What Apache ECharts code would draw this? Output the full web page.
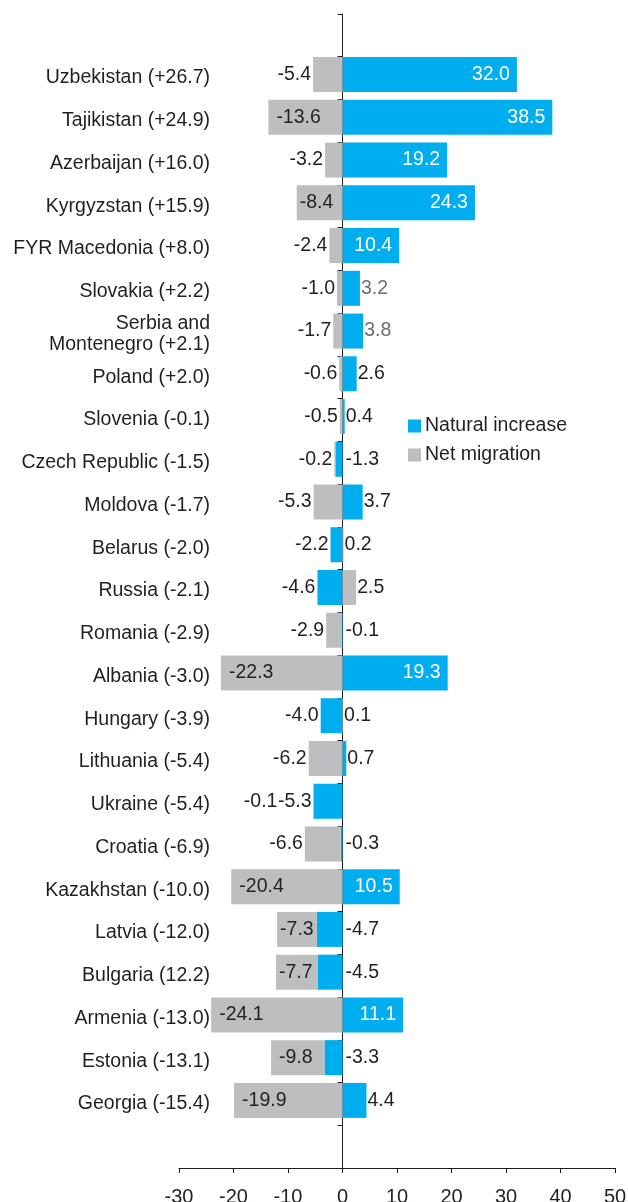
<!DOCTYPE html>
<html><head><meta charset="utf-8">
<script src="https://cdn.jsdelivr.net/npm/echarts@6/dist/echarts.min.js"></script>
<style>html,body{margin:0;padding:0;background:#fff}#c{width:628px;height:1202px}</style>
</head><body><div id="c"></div>
<script>
// ---------- data ----------
const countries = [
  'Uzbekistan (+26.7)', 'Tajikistan (+24.9)', 'Azerbaijan (+16.0)', 'Kyrgyzstan (+15.9)',
  'FYR Macedonia (+8.0)', 'Slovakia (+2.2)', 'Serbia and\nMontenegro (+2.1)', 'Poland (+2.0)',
  'Slovenia (-0.1)', 'Czech Republic (-1.5)', 'Moldova (-1.7)', 'Belarus (-2.0)',
  'Russia (-2.1)', 'Romania (-2.9)', 'Albania (-3.0)', 'Hungary (-3.9)',
  'Lithuania (-5.4)', 'Ukraine (-5.4)', 'Croatia (-6.9)', 'Kazakhstan (-10.0)',
  'Latvia (-12.0)', 'Bulgaria (12.2)', 'Armenia (-13.0)', 'Estonia (-13.1)', 'Georgia (-15.4)'
];
const naturalIncrease = [32.0, 38.5, 19.2, 24.3, 10.4, 3.2, 3.8, 2.6, 0.4, -1.3, 3.7, -2.2,
  -4.6, -0.1, 19.3, -4.0, 0.7, -5.3, -0.3, 10.5, -4.7, -4.5, 11.1, -3.3, 4.4];
const netMigration = [-5.4, -13.6, -3.2, -8.4, -2.4, -1.0, -1.7, -0.6, -0.5, -0.2, -5.3, 0.2,
  2.5, -2.9, -22.3, 0.1, -6.2, -0.1, -6.6, -20.4, -7.3, -7.7, -24.1, -9.8, -19.9];
const seriesNames = ['Natural increase', 'Net migration'];
const xMin = -30, xMax = 50, xStep = 10;

// ---------- styles ----------
const FONT = '"Liberation Sans", Arial, sans-serif';
const DARK = '#231f20';
const BLUE = '#00aeef';
const GREY = '#bcbec0';
const MUTED = '#6d6e71';
const mutedNaturalLabels = [5, 6]; // rows whose natural-increase label is grey
const FS = 19.5;

const measure = (() => {
  const ctx = document.createElement('canvas').getContext('2d');
  ctx.font = FS + 'px ' + FONT;
  return t => ctx.measureText(t).width;
})();
const fmt = v => v.toFixed(1);
const niOnLeft = (v, m) => v < 0 && (m >= 0 || (Math.abs(v) > Math.abs(m) && Math.abs(v) >= 2));

function niItem(v, m, i) {
  let label;
  if (v >= 10) label = { position: 'insideRight', distance: 7, color: '#fff' };
  else if (niOnLeft(v, m)) label = { position: 'left', distance: 2 };
  else label = { position: 'right', distance: v < 0 ? 3 : 1, color: mutedNaturalLabels.includes(i) ? MUTED : DARK };
  return { value: v, label };
}
function nmItem(m, v) {
  let label;
  if (m <= -7) label = { position: 'insideLeft', distance: m <= -9 ? 8 : 3 };
  else if (m < 0) {
    label = { position: 'left', distance: 2 };
    if (niOnLeft(v, m)) label.offset = [-measure(fmt(v)), 0];
  } else label = { position: 'right', distance: 1 };
  return { value: m, label };
}

const pad = x => ['-', ...x, '-'];
const cats = ['', ...countries, ''];
const niData = pad(naturalIncrease.map((v, i) => niItem(v, netMigration[i], i)));
const nmData = pad(netMigration.map((m, i) => nmItem(m, naturalIncrease[i])));

const chart = echarts.init(document.getElementById('c'), null, { renderer: 'canvas' });
chart.setOption({
  animation: false,
  backgroundColor: '#fff',
  textStyle: { fontFamily: FONT },
  grid: { left: 179, right: 13, top: 14, bottom: 34, containLabel: false, outerBoundsMode: 'none' },
  legend: {
    data: seriesNames, orient: 'vertical', left: 408, top: 416,
    itemWidth: 13, itemHeight: 13, itemGap: 9, icon: 'rect', padding: 0,
    textStyle: { fontSize: FS, color: DARK, fontFamily: FONT, padding: [0, 0, 0, -1] }
  },
  xAxis: {
    type: 'value', min: xMin, max: xMax, interval: xStep,
    axisLine: { show: true, lineStyle: { color: DARK, width: 1 } },
    axisTick: { show: true, length: 5, lineStyle: { color: DARK } },
    axisLabel: { fontSize: 20, color: DARK, margin: 19, fontFamily: FONT },
    splitLine: { show: false }
  },
  yAxis: {
    type: 'category', data: cats, inverse: true,
    axisLine: { show: true, onZero: true, lineStyle: { color: DARK, width: 1 } },
    axisTick: { show: true, length: 5, lineStyle: { color: DARK } },
    axisLabel: { interval: 0, fontSize: FS, color: DARK, margin: -31, lineHeight: 21,
                 fontFamily: FONT, padding: [0, 0, 8, 0] }
  },
  series: [
    { name: seriesNames[0], type: 'bar', stack: 'total', data: niData, barWidth: 35, barGap: 0,
      itemStyle: { color: BLUE },
      label: { show: true, formatter: p => fmt(p.value), fontSize: FS, color: DARK, fontFamily: FONT } },
    { name: seriesNames[1], type: 'bar', stack: 'total', data: nmData, barWidth: 35, barGap: 0,
      itemStyle: { color: GREY },
      label: { show: true, formatter: p => fmt(p.value), fontSize: FS, color: DARK, fontFamily: FONT } },
    { name: '_spacer', type: 'bar', data: cats.map(() => '-'), barWidth: 7, barGap: 0, silent: true }
  ]
});
</script></body></html>
